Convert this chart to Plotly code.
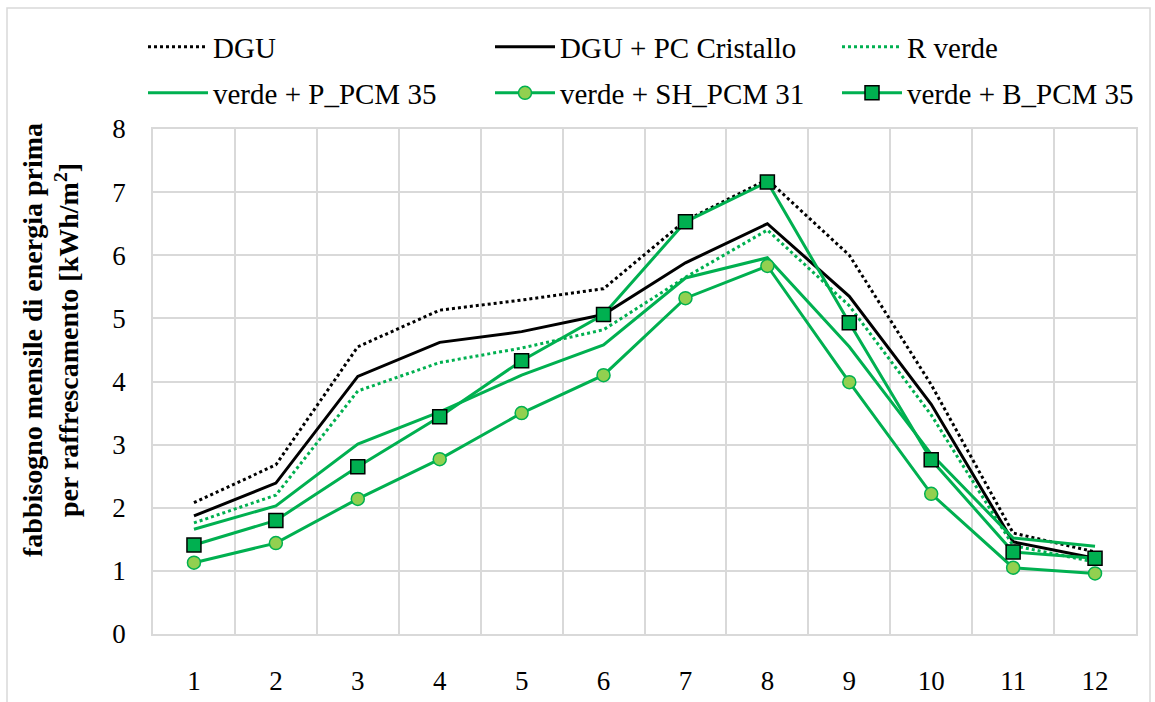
import plotly.graph_objects as go

months = [1, 2, 3, 4, 5, 6, 7, 8, 9, 10, 11, 12]
dgu = [2.08, 2.68, 4.55, 5.13, 5.29, 5.47, 6.55, 7.2, 6.0, 3.95, 1.6, 1.3]
dgu_pc = [1.87, 2.39, 4.08, 4.62, 4.79, 5.06, 5.88, 6.5, 5.35, 3.64, 1.46, 1.2]
r_verde = [1.76, 2.2, 3.85, 4.3, 4.53, 4.82, 5.65, 6.4, 5.2, 3.47, 1.4, 1.14]
p_pcm35 = [1.66, 2.03, 3.01, 3.52, 4.1, 4.58, 5.64, 5.96, 4.55, 2.85, 1.52, 1.39]
sh_pcm31 = [1.13, 1.44, 2.14, 2.77, 3.5, 4.1, 5.32, 5.83, 3.99, 2.22, 1.05, 0.96]
b_pcm35 = [1.41, 1.8, 2.65, 3.44, 4.33, 5.06, 6.53, 7.16, 4.93, 2.76, 1.3, 1.2]

names = ["DGU", "DGU + PC Cristallo", "R verde",
         "verde + P_PCM 35", "verde + SH_PCM 31", "verde + B_PCM 35"]

GREEN = "#00b050"
LGREEN = "#92d050"
FONT = "Liberation Serif"

W, H = 1155, 702
L, R, T, B = 153, 19, 129, 68
PW, PH = W - L - R, H - T - B


def px2x(px):
    return (px - L) / PW


def px2y(py):
    return (H - B - py) / PH


fig = go.Figure()

specs = [
    (dgu, dict(color="black", width=3, dash="dot"), None),
    (dgu_pc, dict(color="black", width=3), None),
    (r_verde, dict(color=GREEN, width=3, dash="dot"), None),
    (p_pcm35, dict(color=GREEN, width=3), None),
    (sh_pcm31, dict(color=GREEN, width=3),
     dict(symbol="circle", size=13, color=LGREEN, line=dict(color=GREEN, width=1.5))),
    (b_pcm35, dict(color=GREEN, width=3),
     dict(symbol="square", size=14, color=GREEN, line=dict(color="black", width=1.5))),
]

# text start x and row centre y (screen px) of each legend entry
legend_pos = [(213, 47), (560, 47), (907, 47), (213, 93), (560, 93), (907, 93)]
ITEMW = 60

for i, (vals, line, marker) in enumerate(specs):
    kw = dict(x=months, y=vals, name=names[i], line=line,
              mode="lines+markers" if marker else "lines",
              legend="legend" if i == 0 else f"legend{i+1}")
    if marker:
        kw["marker"] = marker
    fig.add_trace(go.Scatter(**kw))

legends = {}
for i, (tx, ty) in enumerate(legend_pos):
    key = "legend" if i == 0 else f"legend{i+1}"
    legends[key] = dict(
        x=px2x(tx - (ITEMW + 10)), y=px2y(ty), xanchor="left", yanchor="middle",
        bgcolor="rgba(0,0,0,0)", borderwidth=0, itemwidth=ITEMW,
        font=dict(family=FONT, size=29, color="black"),
    )

fig.update_layout(
    width=W, height=H,
    margin=dict(l=L, r=R, t=T, b=B, autoexpand=False),
    paper_bgcolor="white", plot_bgcolor="white",
    showlegend=True,
    font=dict(family=FONT, size=27, color="black"),
    **legends,
    xaxis=dict(
        range=[0.5, 12.5], tickvals=months, ticktext=[str(m) for m in months],
        showgrid=False, zeroline=False, automargin=False,
        minor=dict(tick0=0.5, dtick=1, showgrid=True, gridcolor="#d9d9d9", gridwidth=1.5),
        showline=True, linecolor="#d9d9d9", linewidth=1.5, mirror=True,
        ticks="", ticklabelstandoff=22,
        tickfont=dict(family=FONT, size=27, color="black"),
    ),
    yaxis=dict(
        range=[0, 8], dtick=1, tick0=0, automargin=False,
        showgrid=True, gridcolor="#d9d9d9", gridwidth=1.5, zeroline=False,
        showline=True, linecolor="#d9d9d9", linewidth=1.5, mirror=True,
        ticks="", ticklabelstandoff=20,
        tickfont=dict(family=FONT, size=27, color="black"),
    ),
    annotations=[dict(
        text="<b>fabbisogno mensile di energia prima<br>per raffrescamento [kWh/m<sup>2</sup>]</b>",
        x=px2x(50), y=px2y(340), xref="paper", yref="paper",
        textangle=-90, showarrow=False, xanchor="center", yanchor="middle",
        font=dict(family=FONT, size=28, color="black"),
    )],
    shapes=[dict(type="rect", xref="paper", yref="paper",
                 x0=px2x(7), x1=px2x(1150), y0=px2y(708), y1=px2y(8),
                 line=dict(color="#d9d9d9", width=1.5), fillcolor="rgba(0,0,0,0)",
                 layer="below")],
)

fig.write_html("out.html", config={"displayModeBar": False},
               post_script="document.body.style.margin='0px';")
